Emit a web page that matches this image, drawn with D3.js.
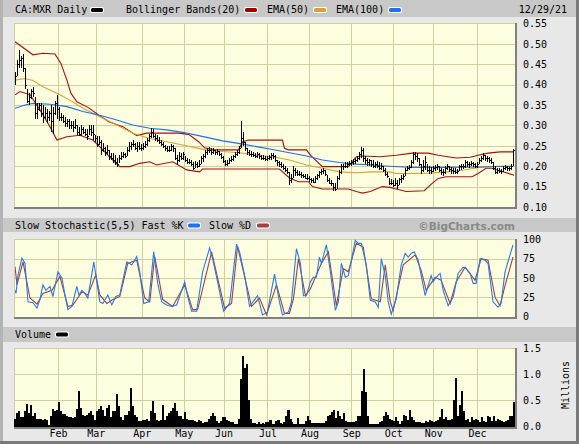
<!DOCTYPE html>
<html>
<head>
<meta charset="utf-8">
<script src="https://cdn.jsdelivr.net/npm/d3@7"></script>
<style>
  body { margin: 0; background: #e8e8e8; }
  svg { display: block; }
  text { font-family: "DejaVu Sans Mono", monospace; font-size: 10px; fill: #000; }
</style>
</head>
<body>
<svg id="chart" width="579" height="444"></svg>
<script>
// Daily bars, Dec 30 2020 .. Dec 29 2021 (251 trading days)
const highs = [
  .44,.43,.46,.485,.47,.475,.44,.39,.38,.39,
  .395,.37,.355,.355,.355,.35,.345,.34,.335,.35,
  .345,.36,.375,.345,.33,.325,.32,.315,.315,.31,
  .31,.315,.30,.295,.30,.295,.29,.29,.30,.30,
  .30,.277,.273,.273,.265,.256,.248,.252,.24,.232,
  .232,.228,.22,.228,.236,.236,.232,.248,.26,.26,
  .264,.256,.26,.26,.255,.258,.262,.27,.28,.293,
  .29,.28,.277,.272,.265,.26,.252,.25,.25,.255,
  .252,.245,.228,.235,.232,.235,.225,.22,.218,.215,
  .21,.212,.21,.215,.225,.23,.24,.245,.248,.245,
  .245,.24,.242,.238,.232,.225,.215,.215,.22,.225,
  .228,.235,.24,.25,.31,.285,.26,.245,.24,.238,
  .235,.232,.235,.232,.228,.228,.225,.225,.228,.232,
  .232,.228,.215,.212,.21,.205,.2,.195,.185,.18,
  .2,.195,.19,.188,.185,.182,.18,.18,.175,.172,
  .17,.175,.182,.188,.192,.195,.19,.178,.17,.165,
  .16,.158,.175,.19,.205,.205,.21,.21,.212,.215,
  .218,.22,.225,.235,.246,.245,.225,.22,.218,.215,
  .215,.21,.212,.21,.208,.2,.195,.185,.17,.168,
  .165,.17,.165,.172,.178,.18,.195,.2,.203,.215,
  .236,.235,.232,.22,.205,.215,.225,.205,.2,.198,
  .2,.203,.205,.2,.195,.193,.2,.205,.2,.198,
  .195,.195,.192,.203,.205,.205,.215,.212,.21,.212,
  .21,.208,.21,.22,.225,.232,.228,.225,.222,.22,
  .21,.2,.195,.195,.193,.2,.203,.2,.198,.205,
  .242
];
const lows = [
  .40,.40,.42,.44,.44,.43,.39,.355,.35,.365,
  .37,.315,.315,.335,.32,.305,.315,.305,.31,.285,
  .28,.325,.315,.31,.31,.305,.295,.295,.29,.29,
  .285,.29,.277,.273,.273,.28,.273,.265,.277,.273,
  .265,.26,.248,.252,.228,.236,.224,.228,.215,.215,
  .207,.203,.197,.207,.215,.22,.22,.224,.236,.24,
  .248,.24,.236,.24,.238,.24,.245,.25,.26,.27,
  .268,.262,.26,.255,.25,.245,.238,.236,.234,.238,
  .235,.215,.203,.21,.215,.215,.21,.205,.205,.2,
  .19,.195,.195,.198,.205,.21,.22,.228,.232,.228,
  .23,.228,.228,.225,.218,.208,.2,.2,.205,.21,
  .212,.22,.225,.23,.245,.25,.238,.228,.225,.222,
  .222,.22,.22,.218,.215,.215,.212,.212,.215,.215,
  .218,.21,.2,.198,.195,.19,.185,.18,.155,.158,
  .17,.175,.175,.175,.17,.17,.168,.165,.162,.16,
  .158,.16,.165,.172,.178,.18,.175,.162,.156,.152,
  .14,.138,.145,.165,.18,.19,.195,.195,.2,.2,
  .203,.205,.21,.215,.22,.21,.205,.2,.2,.198,
  .195,.195,.195,.19,.19,.185,.175,.17,.155,.155,
  .15,.152,.145,.155,.16,.165,.175,.188,.19,.195,
  .205,.215,.21,.2,.18,.185,.19,.185,.182,.182,
  .185,.188,.19,.185,.178,.175,.182,.19,.185,.182,
  .18,.18,.18,.188,.19,.192,.195,.198,.196,.2,
  .198,.195,.195,.205,.21,.215,.212,.21,.208,.205,
  .19,.18,.182,.183,.182,.186,.19,.188,.188,.19,
  .2
];
const closes = [
  .41,.42,.45,.46,.465,.44,.40,.36,.37,.385,
  .38,.33,.34,.35,.33,.32,.33,.32,.33,.31,
  .33,.355,.34,.32,.32,.31,.305,.31,.30,.30,
  .295,.30,.285,.28,.29,.285,.28,.275,.29,.285,
  .28,.27,.255,.26,.24,.245,.235,.24,.225,.22,
  .215,.21,.205,.22,.225,.23,.225,.24,.25,.255,
  .255,.245,.25,.245,.245,.25,.255,.265,.275,.285,
  .275,.27,.265,.26,.255,.25,.245,.24,.24,.25,
  .245,.22,.215,.225,.22,.23,.215,.21,.21,.205,
  .195,.205,.2,.205,.22,.225,.235,.24,.24,.235,
  .24,.235,.238,.23,.222,.212,.205,.208,.215,.218,
  .225,.23,.235,.245,.27,.26,.245,.235,.23,.23,
  .228,.225,.23,.225,.22,.22,.218,.22,.222,.228,
  .225,.215,.21,.205,.2,.195,.19,.185,.165,.17,
  .19,.185,.18,.18,.178,.175,.172,.17,.168,.165,
  .162,.17,.178,.185,.188,.19,.18,.165,.16,.158,
  .15,.145,.17,.185,.2,.2,.2,.205,.208,.21,
  .212,.215,.22,.23,.24,.22,.215,.21,.215,.205,
  .2,.205,.2,.195,.2,.19,.18,.175,.16,.16,
  .155,.16,.155,.168,.172,.175,.19,.195,.198,.21,
  .23,.225,.22,.205,.19,.2,.21,.19,.19,.188,
  .195,.198,.2,.19,.185,.185,.195,.2,.192,.19,
  .188,.185,.188,.2,.2,.2,.21,.205,.205,.208,
  .205,.2,.205,.215,.22,.228,.22,.22,.215,.21,
  .195,.185,.19,.188,.188,.195,.198,.195,.195,.2,
  .24
];
// Volume in millions of shares
const volumes = [
  .15,.25,.3,.18,.18,.3,.43,.25,.41,.2,
  .25,.15,.14,.15,.13,.15,.12,.02,.2,.34,
  .3,.32,.47,.3,.24,.24,.2,.18,.18,.16,
  .18,.33,.68,.35,.22,.2,.22,.25,.3,.22,
  .12,.3,.33,.4,.32,.2,.35,.42,.18,.3,
  .3,.62,.4,.18,.12,.22,.22,.3,.74,.4,
  .22,.18,.1,.1,.12,.13,.15,.1,.3,.48,
  .25,.12,.1,.12,.41,.12,.2,.25,.3,.35,
  .44,.3,.2,.2,.14,.28,.15,.12,.12,.12,
  .1,.08,.12,.1,.06,.08,.09,.14,.2,.25,
  .2,.1,.06,.1,.18,.18,.12,.1,.08,.08,
  .05,.04,.15,.9,1.34,1.12,1.2,.5,.15,.06,
  .06,.05,.08,.05,.06,.05,.08,.09,.12,.05,
  .05,.1,.12,.06,.04,.08,.2,.31,.15,.08,
  .05,.04,.17,.05,.04,.04,.1,.21,.12,.06,
  .06,.06,.06,.06,.06,.06,.1,.21,.22,.28,
  .31,.17,.3,.2,.15,.25,.1,.08,.08,.08,
  .08,.1,.21,.2,.68,1.1,.66,.2,.04,.05,
  .05,.05,.05,.08,.1,.2,.28,.22,.15,.12,
  .1,.18,.1,.05,.1,.22,.2,.12,.31,.18,
  .12,.08,.08,.08,.06,.06,.1,.08,.12,.1,
  .08,.1,.12,.18,.34,.15,.18,.12,.12,.15,
  .5,.92,.2,.41,.68,.3,.12,.15,.08,.18,
  .12,.15,.12,.08,.18,.1,.08,.21,.18,.1,
  .2,.1,.15,.12,.1,.08,.1,.12,.2,.2,
  .47
];

// Indicator readings: [day index, value]
const bbUpper = [[0,.505],[9,.473],[14,.477],[20,.475],[23,.452],[26,.411],[28,.379],[31,.358],[37,.343],[42,.325],[47,.309],[54,.297],[61,.275],[66,.281],[72,.281],[82,.281],[87,.278],[92,.26],[95,.245],[100,.24],[112,.24],[114,.26],[117,.264],[134,.264],[135,.244],[137,.24],[146,.24],[148,.227],[154,.199],[167,.199],[171,.223],[174,.225],[183,.223],[191,.227],[199,.232],[207,.232],[212,.227],[221,.22],[228,.222],[232,.227],[237,.232],[243,.235],[250,.235]];
const bbLower = [[0,.375],[2.5,.383],[7.5,.375],[12.5,.338],[17.5,.297],[21,.264],[26,.272],[32.5,.276],[39,.264],[44,.24],[49,.215],[52.5,.199],[57.5,.199],[62.5,.207],[67.5,.211],[71,.203],[79,.211],[86,.191],[92.5,.186],[94,.193],[132.5,.193],[137.5,.171],[142,.162],[147,.162],[149,.15],[154,.144],[167,.144],[171,.138],[174,.134],[178,.138],[184,.15],[188,.148],[192,.143],[196,.138],[205,.14],[209,.158],[212,.17],[216,.174],[229,.174],[232,.182],[236,.195],[239,.195],[242,.19],[250,.178]];
const ema50 = [[0,.411],[5,.415],[9,.41],[14,.395],[21,.379],[27.5,.362],[34,.342],[42.5,.321],[51,.301],[59,.281],[67.5,.268],[76,.26],[84,.252],[92.5,.243],[96,.24],[104,.236],[112.5,.233],[121,.227],[129,.223],[137.5,.215],[146,.203],[154,.195],[162.5,.186],[171,.184],[179,.186],[187.5,.186],[191,.182],[199,.182],[207.5,.183],[216,.186],[224,.19],[232.5,.197],[241,.2],[250,.2]];
const ema100 = [[0,.342],[5,.35],[9,.354],[17.5,.352],[26,.346],[34,.334],[42.5,.325],[51,.313],[59,.301],[67.5,.293],[76,.289],[84,.283],[92,.275],[104,.262],[112,.256],[121,.248],[129,.241],[137.5,.233],[146,.225],[154,.215],[162.5,.209],[171,.205],[179,.203],[187.5,.2],[199,.197],[216,.197],[232.5,.198],[250,.2]];

// Slow stochastic readings: [day index, value]
const fastK = [[0,34],[0.5,30],[1.5,54],[3.5,76],[5,69],[6.5,19],[9,18],[11,11],[12.5,22],[14,41],[15.5,34],[17.5,39],[19,26],[21.5,58],[23.5,50],[25,28],[26.5,9],[28.5,13],[31,39],[32,28],[33.5,34],[35,30],[36.5,24],[39.5,71],[41,45],[42.5,19],[44,17],[46.5,28],[48.5,15],[50.5,26],[52.5,28],[56,71],[58.5,67],[61,78],[62.5,58],[64.5,17],[67,19],[69.5,84],[71.5,43],[73.5,19],[76,15],[78.5,13],[81,15],[85,45],[86.5,26],[88.5,7],[91,7],[94,58],[97.5,89],[99,75],[101.5,45],[104.5,7],[107.5,17],[111,94],[112.5,84],[115,54],[117.5,13],[121.5,27],[124,2],[126.5,6],[130,55],[132.5,19],[134,2],[137,6],[138.5,19],[141,88],[143,69],[144.5,27],[146,27],[148,45],[149.5,51],[151,51],[152.5,77],[153.5,69],[156,93],[158,58],[160.5,8],[162,19],[163.5,69],[165.5,51],[167,53],[170.5,99],[172,95],[173.5,95],[176,67],[178,21],[180.5,19],[182,12],[183.5,75],[185.5,53],[187,19],[188.5,3],[191,23],[193.5,67],[195.5,82],[197,77],[198.5,82],[200,84],[202,73],[203.5,53],[205.5,27],[207,40],[208.5,53],[209.5,45],[211,51],[213,56],[214.5,34],[217,14],[219.5,25],[222,56],[224.5,64],[226,62],[228,56],[229.5,43],[231,43],[233,75],[235.5,73],[237,69],[239.5,19],[242,12],[243.5,17],[245.5,58],[249.5,93]];
const slowD = [[0,65],[1,41],[4,71],[7.5,24],[11,16],[14,30],[18.5,34],[22.5,52],[26.5,13],[29,15],[33.5,32],[36.5,28],[40.5,54],[42.5,28],[46,17],[49,22],[52.5,26],[56.5,69],[61,73],[65,24],[67.5,19],[70,78],[74,22],[79,13],[85,41],[89,9],[91.5,9],[98.5,84],[105,11],[108.5,17],[111.5,91],[118.5,13],[122.5,24],[126,2],[131,41],[135,4],[137.5,4],[139.5,23],[142,75],[145.5,27],[148,36],[150.5,51],[153.5,69],[157,84],[161,14],[164.5,62],[167,58],[171,95],[174.5,90],[178.5,23],[183,19],[185.5,67],[188,19],[189.5,8],[194.5,67],[200.5,80],[203.5,60],[206,34],[210.5,51],[213.5,47],[218,17],[221,45],[225.5,64],[230.5,47],[233.5,75],[237,73],[240.5,25],[243,14],[245.5,40],[249.5,77]];

// Axis ticks
const monthStarts = [22, 41, 64, 85, 105, 127, 148, 169, 190, 210, 232];
const monthLabels = ["Feb","Mar","Apr","May","Jun","Jul","Aug","Sep","Oct","Nov","Dec"];
const priceTicks = [0.10,0.15,0.20,0.25,0.30,0.35,0.40,0.45,0.50,0.55];
const stochTicks = [0, 25, 50, 75, 100];
const volTicks = [0, 0.5, 1.0, 1.5];

const svg = d3.select("#chart");
const W = 579, H = 444;
const left = 14, right = 515;
const gridColor = "#d0d09c";
const plotFill = "#fdfde0";

const x = d3.scaleLinear().domain([0, closes.length]).range([left, right]);
const yP = d3.scaleLinear().domain([0.10, 0.55]).range([207, 23.4]);
const yS = d3.scaleLinear().domain([0, 100]).range([316.5, 239.5]);
const yV = d3.scaleLinear().domain([0, 1.5]).range([426.5, 348]);

// page frame
svg.append("rect").attr("width", W).attr("height", H).attr("fill", "#e8e8e8");
svg.append("rect").attr("x", 0).attr("y", 0).attr("width", 3).attr("height", H).attr("fill", "#b4b4b4");
svg.append("rect").attr("x", 576).attr("y", 0).attr("width", 3).attr("height", H).attr("fill", "#7a7a7a");
svg.append("rect").attr("x", 0).attr("y", 441).attr("width", W).attr("height", 3).attr("fill", "#7a7a7a");

// header bands
[[0, 17], [218, 14], [327, 15]].forEach(b => {
  svg.append("rect").attr("x", 3).attr("y", b[0]).attr("width", 573).attr("height", b[1]).attr("fill", "#c8c8c8");
});

function swatch(xp, yc, color) {
  svg.append("rect").attr("x", xp - 1).attr("y", yc - 3).attr("width", 14).attr("height", 6)
    .attr("rx", 2).attr("fill", "#fff");
  svg.append("rect").attr("x", xp).attr("y", yc - 2).attr("width", 12).attr("height", 4)
    .attr("rx", 1.5).attr("fill", color);
}

// main header
svg.append("text").attr("x", 15).attr("y", 13).text("CA:MXR Daily");
swatch(91, 10, "#000");
svg.append("text").attr("x", 126).attr("y", 13).text("Bollinger Bands(20)");
swatch(245, 10, "#a00000");
svg.append("text").attr("x", 267).attr("y", 13).text("EMA(50)");
swatch(314, 10, "#d6a234");
svg.append("text").attr("x", 336).attr("y", 13).text("EMA(100)");
swatch(389, 10, "#1a72ee");
svg.append("text").attr("x", 567).attr("y", 13).attr("text-anchor", "end").text("12/29/21");

// stochastic header
svg.append("text").attr("x", 15).attr("y", 229).text("Slow Stochastic(5,5) Fast %K");
swatch(188, 225.5, "#1a72ee");
svg.append("text").attr("x", 209).attr("y", 229).text("Slow %D");
swatch(257, 225.5, "#a04040");
svg.append("text").attr("x", 515).attr("y", 229.5).attr("text-anchor", "end")
  .style("font-family", "'DejaVu Sans', sans-serif").style("font-size", "10.5px")
  .style("font-weight", "bold").style("fill", "#8a8a8a").text("\u00a9BigCharts.com");

// volume header
svg.append("text").attr("x", 15).attr("y", 337.5).text("Volume");
swatch(56, 334.5, "#000");

// plot panels
function panel(y0, y1, yScale, ticks, fmt, gridTicks) {
  const g = svg.append("g").attr("shape-rendering", "crispEdges");
  g.append("rect").attr("x", left).attr("y", y0).attr("width", right - left).attr("height", y1 - y0)
    .attr("fill", plotFill);
  gridTicks.forEach(t => {
    const yy = Math.round(yScale(t)) + 0.5;
    g.append("line").attr("x1", left).attr("x2", right).attr("y1", yy).attr("y2", yy)
      .attr("stroke", gridColor).attr("stroke-width", 1);
  });
  monthStarts.forEach(m => {
    const xx = Math.round(x(m)) + 0.5;
    g.append("line").attr("x1", xx).attr("x2", xx).attr("y1", y0).attr("y2", y1)
      .attr("stroke", gridColor).attr("stroke-width", 1);
  });
  // 3d border: light top/left, dark bottom/right
  g.append("line").attr("x1", left).attr("x2", right).attr("y1", y0 + 0.5).attr("y2", y0 + 0.5)
    .attr("stroke", "#d0d09c");
  g.append("line").attr("x1", left + 0.5).attr("x2", left + 0.5).attr("y1", y0).attr("y2", y1)
    .attr("stroke", "#d0d09c");
  g.append("line").attr("x1", left).attr("x2", right + 2).attr("y1", y1 + 1).attr("y2", y1 + 1)
    .attr("stroke", "#808080").attr("stroke-width", 2);
  g.append("line").attr("x1", right + 1).attr("x2", right + 1).attr("y1", y0).attr("y2", y1 + 2)
    .attr("stroke", "#808080").attr("stroke-width", 2);
  const ax = svg.append("g").attr("transform", `translate(${right + 8},0)`)
    .call(d3.axisRight(yScale).tickValues(ticks).tickFormat(fmt).tickSize(0).tickPadding(0));
  ax.select(".domain").remove();
  ax.selectAll("text").attr("fill", "#000")
    .style("font-family", "'DejaVu Sans Mono', monospace").style("font-size", "10px");
  return g;
}

panel(23, 207, yP, priceTicks, d3.format(".2f"), priceTicks.slice(1, -1));
panel(239, 316.5, yS, stochTicks, d3.format("d"), [25, 50, 75]);
panel(348, 426.5, yV, volTicks, d3.format(".1f"), [0.5, 1.0]);

// clip for main plot
svg.append("clipPath").attr("id", "clipMain").append("rect")
  .attr("x", left + 1).attr("y", 24).attr("width", right - left - 1).attr("height", 183);
svg.append("clipPath").attr("id", "clipStoch").append("rect")
  .attr("x", left + 1).attr("y", 239).attr("width", right - left - 1).attr("height", 78);

const main = svg.append("g").attr("clip-path", "url(#clipMain)");
const lineP = d3.line().x(d => x(d[0] + 0.5)).y(d => yP(d[1]));

// indicator lines under the bars
[[bbUpper, "#a81010"], [bbLower, "#a81010"], [ema50, "#d6a234"], [ema100, "#1a72ee"]].forEach(s => {
  main.append("path").datum(s[0]).attr("d", lineP).attr("fill", "none")
    .attr("stroke", s[1]).attr("stroke-width", 1.1);
});

// price bars
const bars = main.append("g").attr("stroke", "#000").attr("stroke-width", 1).attr("shape-rendering", "crispEdges");
closes.forEach((c, i) => {
  const cx = Math.floor(x(i)) + 0.5;
  bars.append("line").attr("x1", cx).attr("x2", cx).attr("y1", yP(highs[i])).attr("y2", yP(lows[i]));
  bars.append("line").attr("x1", cx).attr("x2", cx + 1.5)
    .attr("y1", Math.round(yP(c)) + 0.5).attr("y2", Math.round(yP(c)) + 0.5);
});

// stochastic
const stoch = svg.append("g").attr("clip-path", "url(#clipStoch)");
const lineS = d3.line().x(d => x(d[0] + 0.5)).y(d => yS(d[1]));
stoch.append("path").datum(slowD).attr("d", lineS).attr("fill", "none")
  .attr("stroke", "#a04040").attr("stroke-width", 1.1);
stoch.append("path").datum(fastK).attr("d", lineS).attr("fill", "none")
  .attr("stroke", "#2a7ae8").attr("stroke-width", 1.1);

// volume
svg.append("g").attr("shape-rendering", "crispEdges").selectAll("rect")
  .data(volumes).join("rect")
  .attr("x", (d, i) => x(i))
  .attr("width", 2.05)
  .attr("y", d => yV(d))
  .attr("height", d => yV(0) - yV(d))
  .attr("fill", "#000");

// month axis
const axM = svg.append("g").attr("transform", "translate(0,430)")
  .call(d3.axisBottom(x).tickValues(monthStarts).tickFormat((d, i) => monthLabels[i]).tickSize(0).tickPadding(0));
axM.select(".domain").remove();
axM.selectAll("text").attr("fill", "#000").attr("dy", "0.71em")
  .style("font-family", "'DejaVu Sans Mono', monospace").style("font-size", "10px");

// Millions label
svg.append("text").attr("transform", "translate(569,385) rotate(-90)")
  .attr("text-anchor", "middle").text("Millions");
</script>
</body>
</html>
